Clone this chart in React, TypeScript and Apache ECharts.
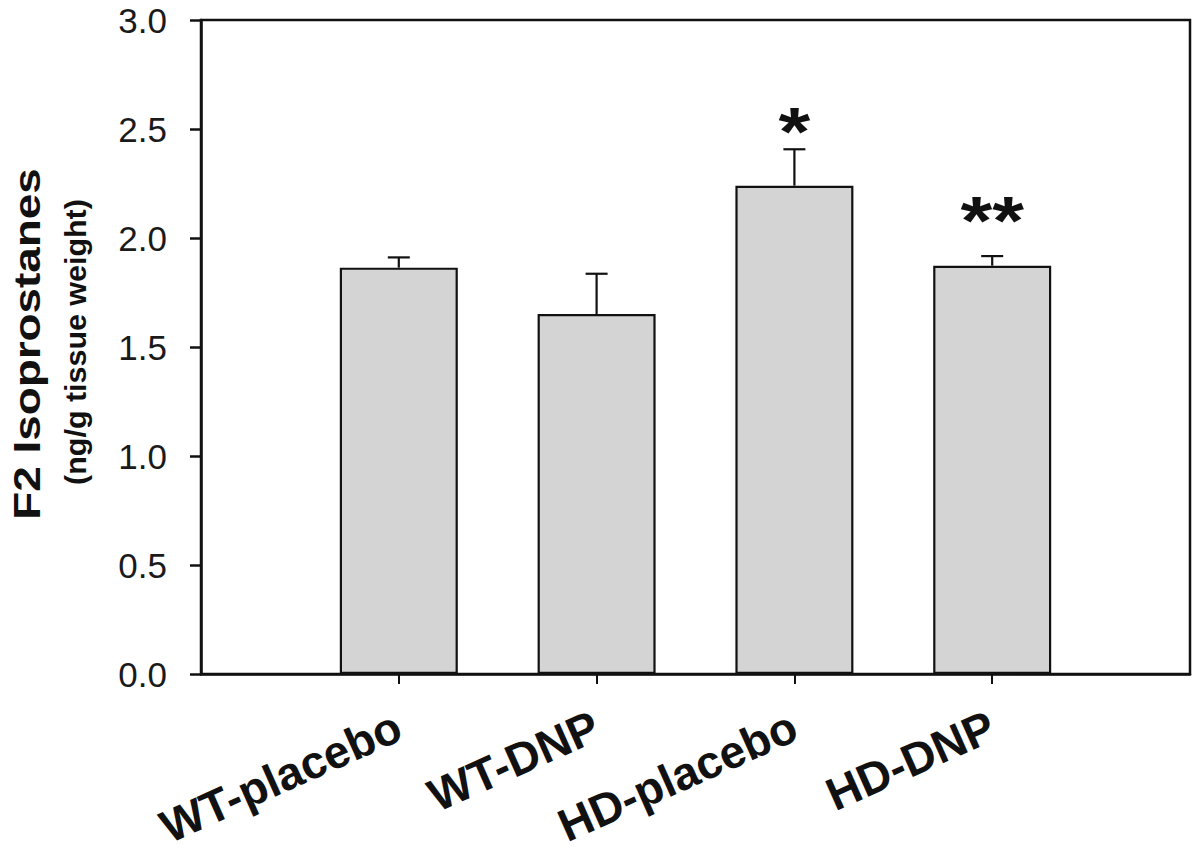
import React, { useEffect, useRef } from "react";
import * as echarts from "echarts";

const categories = ["WT-placebo", "WT-DNP", "HD-placebo", "HD-DNP"];
const means = [1.864, 1.651, 2.24, 1.873];
const sems = [0.047, 0.185, 0.167, 0.044];
const significance = ["", "", "*", "**"];
const starLevels = [0, 0, 2.53, 2.12];
const yTitle = "F2 Isoprostanes";
const yUnit = "(ng/g tissue weight)";

const FONT = 'Arial, "Liberation Sans", Helvetica, sans-serif';
const INK = "#111";

export default function App() {
  const ref = useRef<HTMLDivElement>(null);
  useEffect(() => {
    if (!ref.current) return;
    const chart = echarts.init(ref.current, null, { renderer: "svg" });
    const xPos = categories.map((_, i) => i + 1);
    const option: any = {
      animation: false,
      grid: {
        left: 201,
        right: 10,
        top: 20,
        bottom: 185,
        show: true,
        borderColor: INK,
        borderWidth: 2.5,
        backgroundColor: "transparent",
      },
      xAxis: {
        type: "value",
        min: 0,
        max: 5,
        interval: 1,
        axisLine: { show: true, onZero: false, lineStyle: { color: INK, width: 2.5 } },
        axisTick: { show: true, customValues: xPos, length: 10, lineStyle: { color: INK, width: 2 } },
        axisLabel: {
          customValues: xPos,
          formatter: (v: number) => categories[Math.round(v) - 1] ?? "",
          rotate: 24,
          fontSize: 46,
          fontWeight: "bold",
          fontFamily: FONT,
          color: INK,
          margin: 50,
        },
        splitLine: { show: false },
      },
      yAxis: {
        type: "value",
        min: 0,
        max: 3,
        interval: 0.5,
        axisLine: { show: true, lineStyle: { color: INK, width: 2.5 } },
        axisTick: { show: true, length: 11, lineStyle: { color: INK, width: 2.5 } },
        axisLabel: {
          formatter: (v: number) => v.toFixed(1),
          fontSize: 35,
          fontFamily: FONT,
          color: "#1a1a1a",
          margin: 34,
        },
        splitLine: { show: false },
      },
      series: [
        {
          type: "bar",
          data: xPos.map((x, i) => [x, means[i]]),
          barWidth: 118,
          itemStyle: { color: "#d4d4d4", borderColor: INK, borderWidth: 2.2 },
          z: 2,
        },
        {
          type: "custom",
          data: xPos.map((x, i) => [x, means[i], means[i] + sems[i]]),
          renderItem: (params: any, api: any) => {
            const x = api.value(0);
            const lo = api.coord([x, api.value(1)]);
            const hi = api.coord([x, api.value(2)]);
            const st = { stroke: INK, lineWidth: 2.2 };
            return {
              type: "group",
              children: [
                { type: "line", shape: { x1: lo[0], y1: lo[1], x2: hi[0], y2: hi[1] }, style: st },
                { type: "line", shape: { x1: hi[0] - 11, y1: hi[1], x2: hi[0] + 11, y2: hi[1] }, style: st },
              ],
            };
          },
          z: 3,
        },
        {
          type: "custom",
          data: xPos
            .map((x, i) => [x, starLevels[i], i])
            .filter((d) => significance[d[2] as number] !== ""),
          renderItem: (params: any, api: any) => {
            const x = api.value(0);
            const p = api.coord([x, api.value(1)]);
            const idx = api.value(2);
            return {
              type: "text",
              x: p[0],
              y: p[1] + 9,
              scaleX: 1.2,
              style: {
                text: significance[idx],
                fontSize: 68,
                fontWeight: "bold",
                fontFamily: FONT,
                fill: INK,
                textAlign: "center",
                textVerticalAlign: "middle",
              },
            };
          },
          z: 4,
        },
      ],
      graphic: [
        {
          type: "text",
          x: 27,
          y: 344,
          rotation: Math.PI / 2,
          scaleX: 1.24,
          style: {
            text: yTitle,
            fontSize: 37,
            fontWeight: "bold",
            fontFamily: FONT,
            fill: INK,
            textAlign: "center",
            textVerticalAlign: "middle",
          },
        },
        {
          type: "text",
          x: 76,
          y: 342,
          rotation: Math.PI / 2,
          scaleX: 1.05,
          style: {
            text: yUnit,
            fontSize: 29,
            fontWeight: "bold",
            fontFamily: FONT,
            fill: INK,
            textAlign: "center",
            textVerticalAlign: "middle",
          },
        },
      ],
    };
    chart.setOption(option);
    return () => chart.dispose();
  }, []);
  return <div ref={ref} style={{ width: 1200, height: 859, position: "absolute", left: 0, top: 0, background: "#fff" }} />;
}
